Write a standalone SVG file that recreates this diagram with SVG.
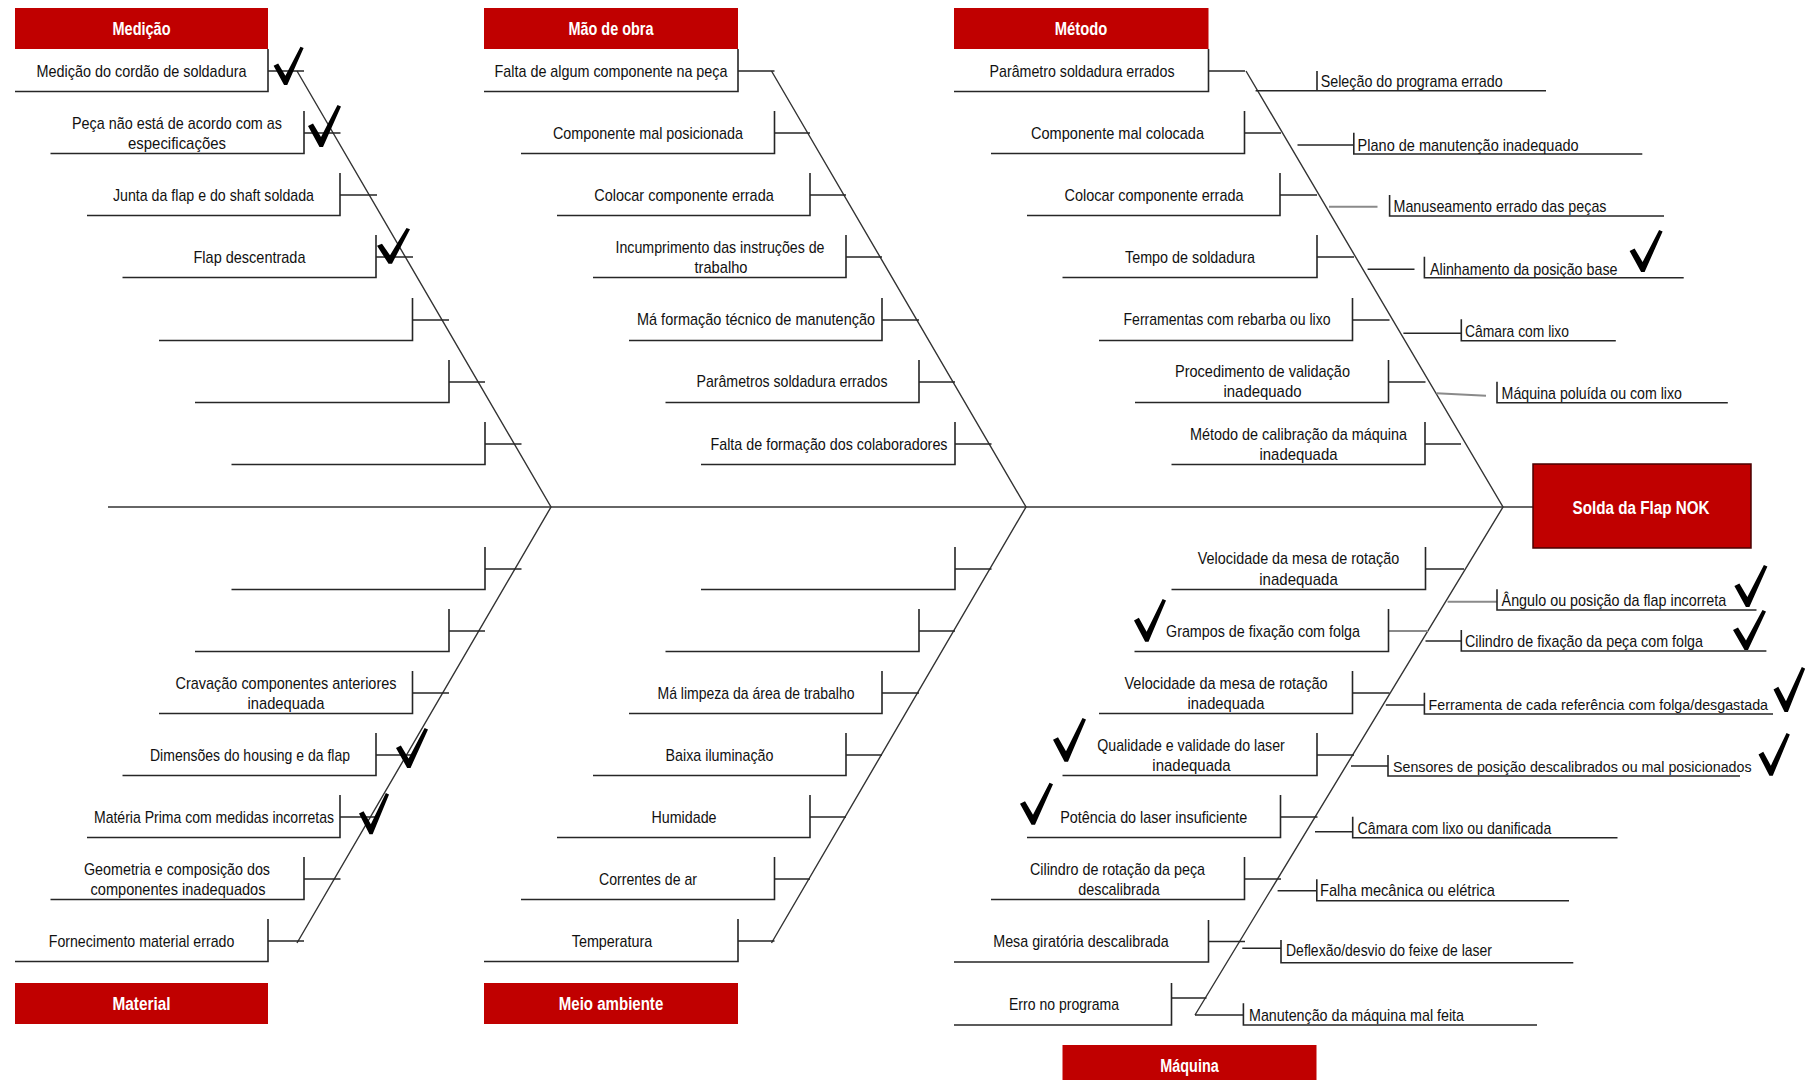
<svg xmlns="http://www.w3.org/2000/svg" xmlns:xlink="http://www.w3.org/1999/xlink" width="1805" height="1080" viewBox="0 0 1805 1080">
<style>
  .bg { fill: #ffffff; }
  .hdr { fill: #c00000; }
  .ht { font-family: "Liberation Sans Narrow", "Liberation Sans", Arial, sans-serif; font-size: 18px; font-weight: bold; fill: #ffffff; text-anchor: middle; dominant-baseline: central; }
  .t { font-family: "Liberation Sans Narrow", "Liberation Sans", Arial, sans-serif; font-size: 17px; fill: #111111; text-anchor: middle; dominant-baseline: central; }
  .tl { font-family: "Liberation Sans Narrow", "Liberation Sans", Arial, sans-serif; font-size: 17px; fill: #111111; text-anchor: start; dominant-baseline: central; }
  .tl.long { font-size: 15px; }
  .ln { fill: none; stroke: #262626; stroke-width: 1.6; }
  .sp { fill: none; stroke: #333333; stroke-width: 1.4; }
  .tk { fill: none; stroke: #262626; stroke-width: 1.6; }
  .gr { fill: none; stroke: #8a8a8a; stroke-width: 2; }
  .chk { fill: #000000; }
</style>
<defs>
  <!-- tick mark used to flag validated causes -->
  <path id="chk" class="chk" d="M0,21 L5,18.5 L13,32 L29.5,0 L33,1.5 L15,42 L11.5,42 Z"/>
</defs>
<rect class="bg" x="0" y="0" width="1805" height="1080"/>

<!-- spine, category bones and sub-cause ticks -->
<g id="connectors">
  <path class="sp" d="M108,507 H1533"/>
  <path class="sp" d="M297,71 L551,507 L297,943"/>
  <path class="sp" d="M771.5,71 L1026,507 L771.5,943"/>
  <path class="sp" d="M1246,71 L1503,507 L1195,1015"/>
  <!-- Medição / Material ticks -->
  <path class="tk" d="M268,71H304 M304,133H340.5 M340,195H377 M376,257H413 M412.5,320H449 M449,382H485 M485,444H521.5"/>
  <path class="tk" d="M485,569H521.5 M449,631H485 M412.5,693H449 M376,755H413 M340,817H377 M304,879H340.5 M268,941H304"/>
  <!-- Mão de obra / Meio ambiente ticks -->
  <path class="tk" d="M738,71H774.5 M774.5,133H810 M810,195H846 M846,257H882 M882,320H919 M919,382H955 M955,444H991.5"/>
  <path class="tk" d="M955,569H991.5 M919,631H955 M882,693H919 M846,755H882 M810,817H846 M774.5,879H810 M738,941H774.5"/>
  <!-- Método ticks -->
  <path class="tk" d="M1208.5,71H1245 M1244.5,133H1281 M1280,195H1317 M1317,257H1354 M1352.5,320H1389.5 M1388.5,382H1425.5 M1425,444H1461"/>
  <path class="tk" d="M1297.5,145H1353.8 M1367.6,269.3H1414.5 M1403.4,333.3H1461.3"/>
  <path class="gr" d="M1329,206.7H1377.5 M1436.5,393.3L1486,395.7"/>
  <!-- Máquina ticks -->
  <path class="tk" d="M1425.5,569H1464 M1352.5,693H1389.5 M1317,755H1354 M1280.5,817H1317.5 M1244.5,879H1281 M1208.5,941.5H1245 M1171.5,998H1206.5"/>
  <path class="gr" d="M1388.5,631H1428 M1447.6,601.7H1497"/>
  <path class="tk" d="M1425.5,641H1461.3 M1385.8,705H1424.4 M1351,766H1388 M1315,831.7H1352.7 M1277.6,890.7H1316.8 M1242.3,948.3H1281 M1195,1015H1243.4"/>
</g>

<!-- category headers -->
<g id="hdr-medicao"><rect class="hdr" x="15" y="8" width="253" height="41"/><text class="ht" x="141.5" y="28.5" textLength="58" lengthAdjust="spacingAndGlyphs">Medição</text></g>
<g id="hdr-mao-de-obra"><rect class="hdr" x="484" y="8" width="254" height="41"/><text class="ht" x="611" y="28.5" textLength="85" lengthAdjust="spacingAndGlyphs">Mão de obra</text></g>
<g id="hdr-metodo"><rect class="hdr" x="954" y="8" width="254.5" height="41"/><text class="ht" x="1081" y="28.5" textLength="52.5" lengthAdjust="spacingAndGlyphs">Método</text></g>
<g id="hdr-material"><rect class="hdr" x="15" y="983" width="253" height="41"/><text class="ht" x="141.5" y="1003.5" textLength="58" lengthAdjust="spacingAndGlyphs">Material</text></g>
<g id="hdr-meio-ambiente"><rect class="hdr" x="484" y="983" width="254" height="41"/><text class="ht" x="611" y="1003.5" textLength="104.5" lengthAdjust="spacingAndGlyphs">Meio ambiente</text></g>
<g id="hdr-maquina"><rect class="hdr" x="1062.5" y="1045" width="254" height="45"/><text class="ht" x="1189.5" y="1066" textLength="58.5" lengthAdjust="spacingAndGlyphs">Máquina</text></g>
<g id="effect"><rect class="hdr" x="1533" y="464" width="218" height="84" stroke="#4a0000" stroke-width="1.5"/><text class="ht" x="1641" y="508" font-size="19" textLength="137" lengthAdjust="spacingAndGlyphs">Solda da Flap NOK</text></g>

<!-- Medição causes -->
<g id="m1"><path class="ln" d="M15,91.5H268V49"/><text class="t" x="141.5" y="71" textLength="210" lengthAdjust="spacingAndGlyphs">Medição do cordão de soldadura</text></g>
<g id="m2"><path class="ln" d="M50.5,153.5H304V111"/><text class="t" x="177" y="123" textLength="210" lengthAdjust="spacingAndGlyphs">Peça não está de acordo com as</text><text class="t" x="177" y="143" textLength="98" lengthAdjust="spacingAndGlyphs">especificações</text></g>
<g id="m3"><path class="ln" d="M87,215.5H340V173"/><text class="t" x="213.5" y="195" textLength="201" lengthAdjust="spacingAndGlyphs">Junta da flap e do shaft soldada</text></g>
<g id="m4"><path class="ln" d="M122.5,277.5H376V235"/><text class="t" x="249.5" y="257" textLength="112" lengthAdjust="spacingAndGlyphs">Flap descentrada</text></g>
<g id="m5"><path class="ln" d="M159,340.5H412.5V298"/></g>
<g id="m6"><path class="ln" d="M195,402.5H449V360"/></g>
<g id="m7"><path class="ln" d="M231.5,464.5H485V422"/></g>

<!-- Material causes -->
<g id="w1"><path class="ln" d="M231.5,589.5H485V547"/></g>
<g id="w2"><path class="ln" d="M195,651.5H449V609"/></g>
<g id="w3"><path class="ln" d="M159,713.5H412.5V671"/><text class="t" x="286" y="683" textLength="221" lengthAdjust="spacingAndGlyphs">Cravação componentes anteriores</text><text class="t" x="286" y="703" textLength="77" lengthAdjust="spacingAndGlyphs">inadequada</text></g>
<g id="w4"><path class="ln" d="M122.5,775.5H376V733"/><text class="t" x="250" y="755" textLength="200" lengthAdjust="spacingAndGlyphs">Dimensões do housing e da flap</text></g>
<g id="w5"><path class="ln" d="M87,837.5H340V795"/><text class="t" x="214" y="817" textLength="240" lengthAdjust="spacingAndGlyphs">Matéria Prima com medidas incorretas</text></g>
<g id="w6"><path class="ln" d="M50.5,899.5H304V857"/><text class="t" x="177" y="869" textLength="186" lengthAdjust="spacingAndGlyphs">Geometria e composição dos</text><text class="t" x="178" y="889" textLength="175" lengthAdjust="spacingAndGlyphs">componentes inadequados</text></g>
<g id="w7"><path class="ln" d="M15,961.5H268V919"/><text class="t" x="141.5" y="941" textLength="185.5" lengthAdjust="spacingAndGlyphs">Fornecimento material errado</text></g>

<!-- Mão de obra causes -->
<g id="o1"><path class="ln" d="M484,91.5H738V49"/><text class="t" x="611" y="71" textLength="233" lengthAdjust="spacingAndGlyphs">Falta de algum componente na peça</text></g>
<g id="o2"><path class="ln" d="M521,153.5H774.5V111"/><text class="t" x="648" y="133" textLength="190" lengthAdjust="spacingAndGlyphs">Componente mal posicionada</text></g>
<g id="o3"><path class="ln" d="M557,215.5H810V173"/><text class="t" x="684" y="195" textLength="179.5" lengthAdjust="spacingAndGlyphs">Colocar componente errada</text></g>
<g id="o4"><path class="ln" d="M593,277.5H846V235"/><text class="t" x="720" y="247" textLength="209" lengthAdjust="spacingAndGlyphs">Incumprimento das instruções de</text><text class="t" x="721" y="267" textLength="53" lengthAdjust="spacingAndGlyphs">trabalho</text></g>
<g id="o5"><path class="ln" d="M629,340.5H882V298"/><text class="t" x="756" y="319" textLength="238" lengthAdjust="spacingAndGlyphs">Má formação técnico de manutenção</text></g>
<g id="o6"><path class="ln" d="M665.5,402.5H919V360"/><text class="t" x="792" y="381" textLength="191" lengthAdjust="spacingAndGlyphs">Parâmetros soldadura errados</text></g>
<g id="o7"><path class="ln" d="M701,464.5H955V422"/><text class="t" x="829" y="444" textLength="237" lengthAdjust="spacingAndGlyphs">Falta de formação dos colaboradores</text></g>

<!-- Meio ambiente causes -->
<g id="e1"><path class="ln" d="M701,589.5H955V547"/></g>
<g id="e2"><path class="ln" d="M665.5,651.5H919V609"/></g>
<g id="e3"><path class="ln" d="M629,713.5H882V671"/><text class="t" x="756" y="693" textLength="197" lengthAdjust="spacingAndGlyphs">Má limpeza da área de trabalho</text></g>
<g id="e4"><path class="ln" d="M593,775.5H846V733"/><text class="t" x="719.5" y="755" textLength="108" lengthAdjust="spacingAndGlyphs">Baixa iluminação</text></g>
<g id="e5"><path class="ln" d="M557,837.5H810V795"/><text class="t" x="684" y="817" textLength="65" lengthAdjust="spacingAndGlyphs">Humidade</text></g>
<g id="e6"><path class="ln" d="M521,899.5H774.5V857"/><text class="t" x="648" y="879" textLength="98" lengthAdjust="spacingAndGlyphs">Correntes de ar</text></g>
<g id="e7"><path class="ln" d="M484,961.5H738V919"/><text class="t" x="612" y="941" textLength="80.5" lengthAdjust="spacingAndGlyphs">Temperatura</text></g>

<!-- Método causes (left of bone) -->
<g id="t1"><path class="ln" d="M954,91.5H1208.5V49"/><text class="t" x="1082" y="71" textLength="185" lengthAdjust="spacingAndGlyphs">Parâmetro soldadura errados</text></g>
<g id="t2"><path class="ln" d="M991,153.5H1244.5V111"/><text class="t" x="1117.5" y="133" textLength="173" lengthAdjust="spacingAndGlyphs">Componente mal colocada</text></g>
<g id="t3"><path class="ln" d="M1027,215.5H1280V173"/><text class="t" x="1154" y="195" textLength="179" lengthAdjust="spacingAndGlyphs">Colocar componente errada</text></g>
<g id="t4"><path class="ln" d="M1062.5,277.5H1317V235"/><text class="t" x="1190" y="257" textLength="130" lengthAdjust="spacingAndGlyphs">Tempo de soldadura</text></g>
<g id="t5"><path class="ln" d="M1099,340.5H1352.5V298"/><text class="t" x="1227" y="319" textLength="207" lengthAdjust="spacingAndGlyphs">Ferramentas com rebarba ou lixo</text></g>
<g id="t6"><path class="ln" d="M1135,402.5H1388.5V360"/><text class="t" x="1262.5" y="371" textLength="175" lengthAdjust="spacingAndGlyphs">Procedimento de validação</text><text class="t" x="1262.5" y="391" textLength="78" lengthAdjust="spacingAndGlyphs">inadequado</text></g>
<g id="t7"><path class="ln" d="M1171.5,464.5H1425V422"/><text class="t" x="1298.5" y="434" textLength="217" lengthAdjust="spacingAndGlyphs">Método de calibração da máquina</text><text class="t" x="1298.5" y="454" textLength="78" lengthAdjust="spacingAndGlyphs">inadequada</text></g>

<!-- Método causes (right of bone) -->
<g id="r1"><path class="ln" d="M1255.6,90.7H1546 M1317,90.7V71"/><text class="tl" x="1320.7" y="81.7" textLength="182" lengthAdjust="spacingAndGlyphs">Seleção do programa errado</text></g>
<g id="r2"><path class="ln" d="M1353.8,132.7V154H1642.3"/><text class="tl" x="1357.6" y="145" textLength="221" lengthAdjust="spacingAndGlyphs">Plano de manutenção inadequado</text></g>
<g id="r3"><path class="ln" d="M1389.6,195V216H1664"/><text class="tl" x="1393.5" y="206.7" textLength="213" lengthAdjust="spacingAndGlyphs">Manuseamento errado das peças</text></g>
<g id="r4"><path class="ln" d="M1424.4,256.7V277.7H1683.7"/><text class="tl" x="1430" y="269.3" textLength="187.5" lengthAdjust="spacingAndGlyphs">Alinhamento da posição base</text></g>
<g id="r5"><path class="ln" d="M1461.3,319.3V340.7H1615.8"/><text class="tl" x="1465" y="331" textLength="104" lengthAdjust="spacingAndGlyphs">Câmara com lixo</text></g>
<g id="r6"><path class="ln" d="M1497,381.7V402.7H1727.8"/><text class="tl" x="1501.6" y="393.3" textLength="180.4" lengthAdjust="spacingAndGlyphs">Máquina poluída ou com lixo</text></g>

<!-- Máquina causes (left of bone) -->
<g id="q1"><path class="ln" d="M1171.5,589.5H1425.5V547"/><text class="t" x="1298.5" y="558" textLength="201.5" lengthAdjust="spacingAndGlyphs">Velocidade da mesa de rotação</text><text class="t" x="1298.5" y="579" textLength="78.5" lengthAdjust="spacingAndGlyphs">inadequada</text></g>
<g id="q2"><path class="ln" d="M1134.5,651.5H1388.5V609"/><text class="t" x="1263" y="631" textLength="194" lengthAdjust="spacingAndGlyphs">Grampos de fixação com folga</text></g>
<g id="q3"><path class="ln" d="M1099,713.5H1352.5V671"/><text class="t" x="1226" y="683" textLength="203" lengthAdjust="spacingAndGlyphs">Velocidade da mesa de rotação</text><text class="t" x="1226" y="703" textLength="77" lengthAdjust="spacingAndGlyphs">inadequada</text></g>
<g id="q4"><path class="ln" d="M1062.5,775.5H1317V733"/><text class="t" x="1191" y="745" textLength="187.5" lengthAdjust="spacingAndGlyphs">Qualidade e validade do laser</text><text class="t" x="1191.5" y="765.5" textLength="78.3" lengthAdjust="spacingAndGlyphs">inadequada</text></g>
<g id="q5"><path class="ln" d="M1027,837.5H1280.5V795"/><text class="t" x="1153.7" y="817" textLength="187" lengthAdjust="spacingAndGlyphs">Potência do laser insuficiente</text></g>
<g id="q6"><path class="ln" d="M991,899.5H1244.5V857"/><text class="t" x="1117.5" y="869.5" textLength="175" lengthAdjust="spacingAndGlyphs">Cilindro de rotação da peça</text><text class="t" x="1119" y="889.5" textLength="81.5" lengthAdjust="spacingAndGlyphs">descalibrada</text></g>
<g id="q7"><path class="ln" d="M954,962H1208.5V920"/><text class="t" x="1081" y="941.5" textLength="175.5" lengthAdjust="spacingAndGlyphs">Mesa giratória descalibrada</text></g>
<g id="q8"><path class="ln" d="M954,1025H1171.5V983"/><text class="t" x="1064" y="1004.5" textLength="110" lengthAdjust="spacingAndGlyphs">Erro no programa</text></g>

<!-- Máquina causes (right of bone) -->
<g id="s1"><path class="ln" d="M1497,589.3V610H1756.5"/><text class="tl" x="1501.6" y="600" textLength="224.6" lengthAdjust="spacingAndGlyphs">Ângulo ou posição da flap incorreta</text></g>
<g id="s2"><path class="ln" d="M1461.3,630V651H1766.4"/><text class="tl" x="1465" y="641.7" textLength="238" lengthAdjust="spacingAndGlyphs">Cilindro de fixação da peça com folga</text></g>
<g id="s3"><path class="ln" d="M1424.4,692.7V714H1773"/><text class="tl long" x="1428.5" y="704" textLength="339.5" lengthAdjust="spacingAndGlyphs">Ferramenta de cada referência com folga/desgastada</text></g>
<g id="s4"><path class="ln" d="M1388,755V776H1740"/><text class="tl long" x="1393" y="766.7" textLength="358.5" lengthAdjust="spacingAndGlyphs">Sensores de posição descalibrados ou mal posicionados</text></g>
<g id="s5"><path class="ln" d="M1352.7,816.7V837.7H1617.5"/><text class="tl" x="1357.6" y="828.3" textLength="193.7" lengthAdjust="spacingAndGlyphs">Câmara com lixo ou danificada</text></g>
<g id="s6"><path class="ln" d="M1316.8,879.3V900.7H1569"/><text class="tl" x="1320" y="890.7" textLength="175" lengthAdjust="spacingAndGlyphs">Falha mecânica ou elétrica</text></g>
<g id="s7"><path class="ln" d="M1281,940V962.7H1573.3"/><text class="tl" x="1286" y="950.7" textLength="206" lengthAdjust="spacingAndGlyphs">Deflexão/desvio do feixe de laser</text></g>
<g id="s8"><path class="ln" d="M1243.4,1003.3V1025H1537"/><text class="tl" x="1249" y="1015" textLength="215" lengthAdjust="spacingAndGlyphs">Manutenção da máquina mal feita</text></g>

<!-- validation marks -->
<g id="marks">
  <use xlink:href="#chk" transform="translate(273.6,46.7) scale(0.91)"/>
  <use xlink:href="#chk" transform="translate(308,105)"/>
  <use xlink:href="#chk" transform="translate(377,228) scale(1,0.85)"/>
  <use xlink:href="#chk" transform="translate(396,728) scale(0.97,0.95)"/>
  <use xlink:href="#chk" transform="translate(359,793) scale(0.91,0.98)"/>
  <use xlink:href="#chk" transform="translate(1629.6,230)"/>
  <use xlink:href="#chk" transform="translate(1134,599) scale(0.97,1.02)"/>
  <use xlink:href="#chk" transform="translate(1053,718) scale(1,1.04)"/>
  <use xlink:href="#chk" transform="translate(1020,782.7)"/>
  <use xlink:href="#chk" transform="translate(1734.4,565)"/>
  <use xlink:href="#chk" transform="translate(1733,610) scale(1,0.95)"/>
  <use xlink:href="#chk" transform="translate(1773.5,667) scale(0.96,1.07)"/>
  <use xlink:href="#chk" transform="translate(1758.5,733) scale(0.95,1.02)"/>
</g>
</svg>
